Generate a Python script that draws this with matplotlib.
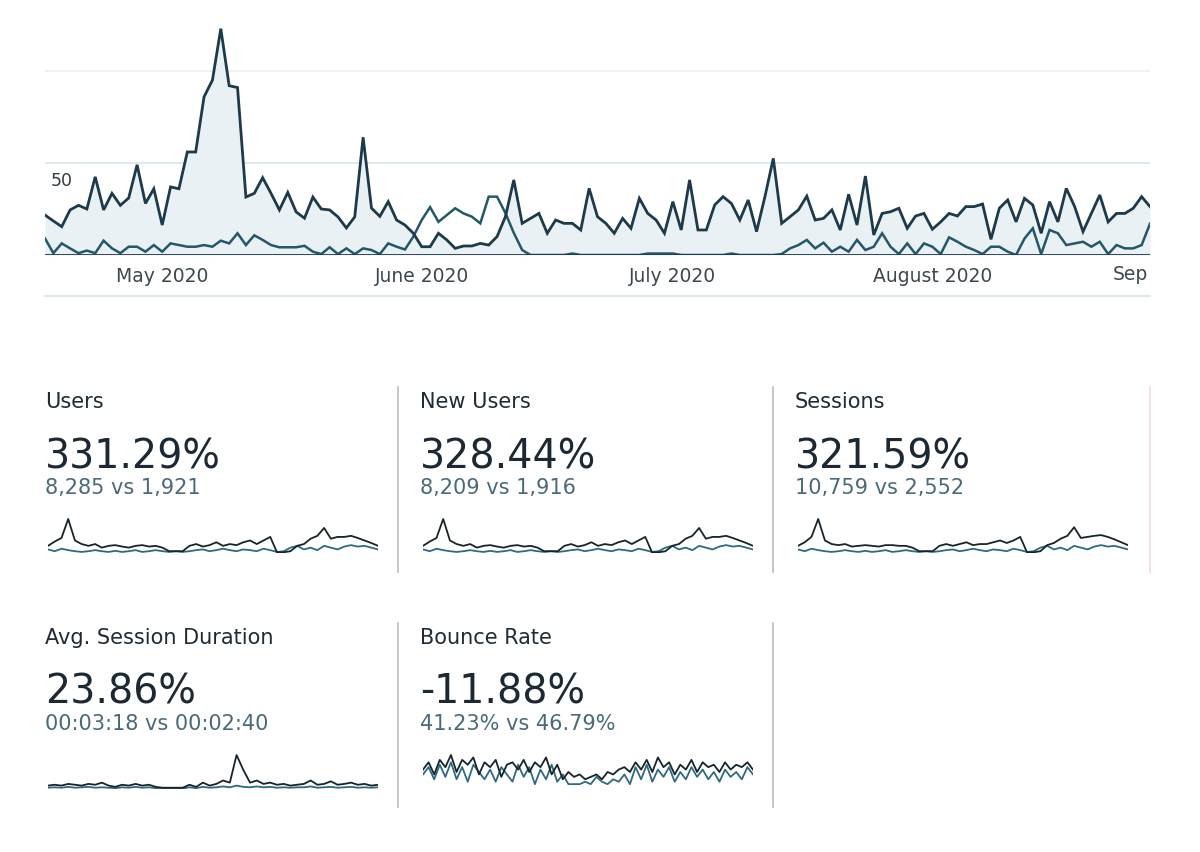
import numpy as np
import pandas as pd
import matplotlib
matplotlib.use("Agg")
import matplotlib.pyplot as plt

plt.rcParams['font.family'] = ['DejaVu Sans']

# --- main chart: users per day, current period vs previous period ---
dates = pd.date_range('2020-04-17', '2020-08-27', freq='D')

users_current = [
    21.7, 18.5, 15.4, 24.5, 27, 25, 42.5, 24.5, 33.5, 27,
    31, 49, 28, 36, 16.3, 37, 36, 56, 56, 86,
    95, 123, 92, 91, 31.5, 33.5, 42, 33.5, 24.5, 34,
    23.4, 20, 31.5, 25, 24.5, 20.7, 14.7, 20.7, 64, 25.5,
    21, 29, 19, 16.3, 11.8, 4.5, 4.5, 11.8, 8.2, 3.6,
    4.9, 4.9, 6.3, 5.4, 10, 20.8, 40.8, 17.2, 19.9, 22.6,
    11.8, 19, 17.2, 17.2, 13.6, 36.2, 20.8, 17.2, 11.8, 19.9,
    14.5, 30.8, 22.6, 19, 11.8, 29, 13.6, 40.8, 13.6, 13.6,
    27.2, 31.7, 28, 19, 29.9, 12.7, 31.7, 52.5, 17.2, 20.8,
    24.5, 32, 19, 19.9, 24.5, 13.6, 33, 16.3, 42.9, 10.9,
    22.6, 23.5, 25.4, 14.5, 21.2, 22.6, 14, 18, 22.6, 21.2,
    26.3, 26.3, 27.7, 8.5, 25.4, 29.9, 18, 30.8, 27.2, 11.8,
    29, 18, 36.2, 26.3, 12.7, 22.6, 32.6, 18, 22.6, 22.6,
    25.4, 31.7, 26.3,
]

users_previous = [
    9, 1, 6.3, 3.6, 1, 2.4, 1, 7.8, 3.6, 1,
    4.5, 4.5, 1.8, 5.4, 1.8, 6.3, 5.4, 4.5, 4.5, 5.4,
    4.5, 7.8, 6.3, 11.8, 5.4, 10.7, 8.2, 5.4, 4.2, 4.2,
    4.2, 5, 1.8, 0.5, 4.2, 0.5, 3.6, 0.5, 3.6, 2.7,
    0.5, 6.3, 4.5, 3, 10, 19, 26, 18, 21.7, 25.4,
    22.6, 20.8, 17.2, 31.7, 31.7, 22.8, 12, 2.7, 0, 0,
    0, 0, 0, 0.8, 0, 0, 0, 0, 0, 0,
    0, 0, 0.8, 0.8, 0.8, 0.8, 0, 0, 0, 0,
    0, 0, 0.8, 0, 0, 0, 0, 0, 0.5, 3.6,
    5.4, 8.2, 3.6, 6.7, 1.8, 4.5, 1.8, 8.2, 2.7, 4.5,
    11.8, 4.5, 0.5, 6.3, 0.5, 6.3, 4.5, 0.5, 9.6, 7.2,
    4.5, 2.7, 0.5, 4.5, 4.5, 1.8, 0, 8.9, 14.5, 0.5,
    13.6, 11.8, 5.4, 6.3, 7.2, 4.5, 7.2, 0.5, 5.4, 3.6,
    3.6, 5.4, 17,
]

month_ticks = ['2020-05-01', '2020-06-01', '2020-07-01', '2020-08-01']
month_labels = ['May 2020', 'June 2020', 'July 2020', 'August 2020']
grid_values = [50, 100]

# --- scorecards ---
card_titles = ['Users', 'New Users', 'Sessions', 'Avg. Session Duration', 'Bounce Rate']
card_changes = ['331.29%', '328.44%', '321.59%', '23.86%', '-11.88%']
card_compare = ['8,285 vs 1,921', '8,209 vs 1,916', '10,759 vs 2,552',
                '00:03:18 vs 00:02:40', '41.23% vs 46.79%']

# sparklines (relative heights)
spark_users_cur = [20, 32, 42, 95, 35, 25, 20, 25, 15, 20, 22, 18, 15, 20, 22, 18, 20, 15, 5, 5,
                   5, 20, 25, 18, 22, 30, 20, 25, 22, 30, 35, 25, 35, 45, 2, 2, 5, 20, 25, 40,
                   48, 70, 40, 45, 45, 48, 42, 35, 28, 20]
spark_users_prev = [10, 5, 12, 8, 5, 3, 5, 8, 5, 3, 6, 3, 5, 8, 3, 5, 8, 5, 3, 5,
                    3, 5, 8, 10, 5, 8, 12, 8, 5, 10, 8, 5, 12, 8, 3, 5, 15, 20, 10, 15,
                    8, 20, 15, 10, 18, 22, 18, 20, 15, 10]
spark_sessions_cur = [20, 30, 45, 95, 35, 25, 22, 25, 18, 20, 22, 20, 18, 22, 22, 20, 20, 15, 5, 5,
                      5, 20, 25, 20, 25, 30, 22, 25, 25, 30, 35, 28, 35, 45, 2, 2, 5, 22, 28, 40,
                      48, 72, 42, 45, 48, 50, 45, 38, 30, 22]
spark_duration_cur = [8, 10, 8, 12, 10, 8, 12, 10, 15, 8, 5, 10, 8, 12, 8, 10, 5, 3, 3, 3,
                      3, 10, 5, 15, 8, 12, 20, 15, 80, 45, 15, 20, 12, 15, 10, 12, 8, 10, 12, 20,
                      10, 12, 18, 10, 12, 15, 10, 12, 8, 10]
spark_duration_prev = [3, 4, 3, 5, 3, 4, 5, 3, 4, 3, 2, 4, 3, 5, 3, 4, 2, 1, 1, 1,
                       1, 4, 2, 5, 3, 4, 6, 4, 8, 5, 4, 6, 4, 5, 3, 4, 3, 4, 4, 6,
                       3, 4, 5, 3, 4, 5, 3, 4, 3, 4]
spark_bounce_cur = [40, 55, 30, 60, 45, 70, 35, 60, 50, 65, 30, 55, 45, 60, 25, 50, 55, 40, 60, 35,
                    55, 45, 65, 30, 50, 20, 35, 25, 30, 20, 25, 30, 20, 35, 30, 40, 45, 35, 55, 40,
                    60, 35, 65, 45, 55, 30, 50, 40, 60, 35, 55, 45, 50, 35, 55, 40, 50, 45, 55, 40]
spark_bounce_prev = [30, 45, 20, 50, 25, 55, 20, 45, 15, 50, 35, 20, 40, 15, 45, 30, 15, 50, 25, 45,
                     10, 40, 20, 50, 15, 30, 10, 10, 10, 15, 10, 25, 15, 10, 20, 15, 30, 10, 45, 20,
                     50, 15, 40, 25, 45, 15, 35, 20, 45, 25, 40, 20, 35, 15, 40, 25, 35, 20, 45, 30]

W, H = 1200, 852
LINE = '#1d3a4a'
PREV = '#23576a'
FILL = '#eaf1f4'


def px_axes(fig, x0, y_top, x1, y_bottom):
    return fig.add_axes([x0 / W, 1 - y_bottom / H, (x1 - x0) / W, (y_bottom - y_top) / H])


fig = plt.figure(figsize=(W / 100, H / 100), dpi=100)
fig.patch.set_facecolor('white')

# main chart
ax = px_axes(fig, 45, 255 - 130 * 1.84, 1150, 255)
ax.fill_between(dates, users_current, 0, color=FILL, lw=0, zorder=1)
ax.axhline(grid_values[0], color='#d6e5ec', lw=1.2, zorder=0.5)
ax.axhline(grid_values[1], color='#e9f0f3', lw=1.2, zorder=0.5)
ax.plot(dates, users_previous, color=PREV, lw=1.8, zorder=3, solid_joinstyle='miter')
ax.plot(dates, users_current, color=LINE, lw=2.0, zorder=4, solid_joinstyle='miter')
ax.axhline(0, color=LINE, lw=2.0, zorder=5)
ax.set_xlim(dates[0], dates[-1])
ax.set_ylim(0, 130)
ax.set_xticks(pd.to_datetime(month_ticks))
ax.set_xticklabels(month_labels)
ax.tick_params(axis='x', length=0, pad=9, labelsize=13.5, labelcolor='#3b4850')
ax.set_yticks([])
for s in ax.spines.values():
    s.set_visible(False)
ax.text(0.005, 40, '50', transform=ax.get_yaxis_transform(), fontsize=12.5,
        color='#333d44', va='center', ha='left', zorder=6)
# month label at the right edge, cut in the original view
ax.text(1113 / W, 1 - 275 / H, 'Sep', transform=fig.transFigure, fontsize=13.5,
        color='#3b4850', ha='left', va='center')
ax.plot([0, 1], [-40 / 235, -40 / 235], transform=ax.transAxes, color='#d7e4ea',
        lw=1.2, clip_on=False)

# scorecards
col_x = [45, 420, 795]
row_y = [0, 236]
sparks = [
    (spark_users_cur, spark_users_prev),
    (spark_users_cur, spark_users_prev),
    (spark_sessions_cur, spark_users_prev),
    (spark_duration_cur, spark_duration_prev),
    (spark_bounce_cur, spark_bounce_prev),
]
for i, title in enumerate(card_titles):
    cx = col_x[i % 3]
    dy = row_y[i // 3]
    fig.text(cx / W, 1 - (408 + dy) / H, title, fontsize=15, color='#1f2b35', va='baseline')
    fig.text(cx / W, 1 - (468 + dy) / H, card_changes[i], fontsize=28.5, color='#1c2833',
             va='baseline')
    fig.text(cx / W, 1 - (494 + dy) / H, card_compare[i], fontsize=15, color='#4a6a7a',
             va='baseline')

    cur, prev = sparks[i]
    sax = px_axes(fig, cx + 3, 518 + dy, cx + 333, 553 + dy)
    sax.plot(np.arange(len(prev)), prev, color='#2e6a80', lw=1.3)
    sax.plot(np.arange(len(cur)), cur, color='#17242c', lw=1.3)
    sax.set_xlim(0, len(cur) - 1)
    sax.set_ylim(0, max(max(cur), max(prev)) * 1.03)
    sax.axis('off')

# dividers
for x, y0, y1, c in [(398, 387, 572, '#bdbdbd'), (773, 387, 572, '#bdbdbd'),
                     (1150, 387, 572, '#ecdcdc'), (398, 623, 807, '#bdbdbd'),
                     (773, 623, 807, '#bdbdbd')]:
    fig.add_artist(plt.Line2D([x / W, x / W], [1 - y0 / H, 1 - y1 / H], color=c, lw=1.2))

fig.savefig('out.png', dpi=100, facecolor='white')
